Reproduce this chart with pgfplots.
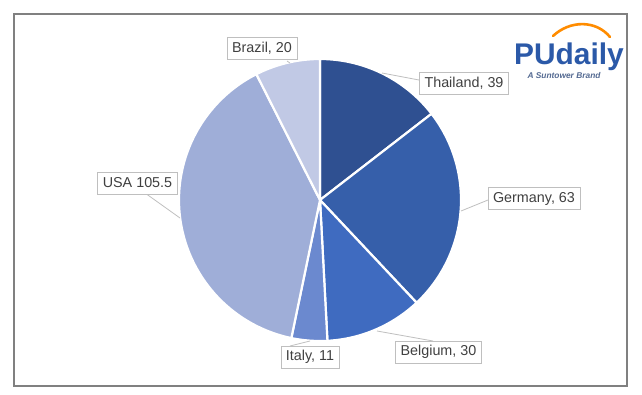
\documentclass[border=0pt]{standalone}
\usepackage{pgfplots}
\pgfplotsset{compat=1.18}
\usepackage{pgfplotstable}
\usepgfplotslibrary{polar}
\usepackage{fontspec}
\setmainfont{Liberation Sans}
\definecolor{cTha}{HTML}{2F5091}
\definecolor{cGer}{HTML}{365FAA}
\definecolor{cBel}{HTML}{3F6BC0}
\definecolor{cIta}{HTML}{6B89CF}
\definecolor{cUSA}{HTML}{9FAED8}
\definecolor{cBra}{HTML}{C1C9E5}
\definecolor{txt}{HTML}{404040}
\definecolor{boxc}{HTML}{BFBFBF}
\definecolor{logob}{HTML}{2B59A8}
\definecolor{logos}{HTML}{546A92}
% values
\def\vTha{39}\def\vGer{63}\def\vBel{30}\def\vIta{11}\def\vUSA{105.5}\def\vBra{20}
\pgfmathsetmacro\tot{\vTha+\vGer+\vBel+\vIta+\vUSA+\vBra}
\pgfmathsetmacro\aA{90}
\pgfmathsetmacro\aB{\aA-\vTha/\tot*360}
\pgfmathsetmacro\aC{\aB-\vGer/\tot*360}
\pgfmathsetmacro\aD{\aC-\vBel/\tot*360}
\pgfmathsetmacro\aE{\aD-\vIta/\tot*360}
\pgfmathsetmacro\aF{\aE-\vUSA/\tot*360}
\pgfmathsetmacro\aG{\aF-\vBra/\tot*360}
\begin{document}
\begin{tikzpicture}[x=1bp,y=1bp]
\fill[white] (0,0) rectangle (642,394);
\draw[color=black!50, line width=1.2bp] (14,8) rectangle (627,380);
\begin{polaraxis}[at={(320bp,194bp)}, anchor=center, scale only axis,
  width=282bp, height=282bp, ymin=0, ymax=1, hide axis, clip=false]
\addplot[fill=cTha, draw=white, line width=2.2bp, domain=\aB:\aA, samples=60] {1} -- (axis cs:0,0) -- cycle;
\addplot[fill=cGer, draw=white, line width=2.2bp, domain=\aC:\aB, samples=60] {1} -- (axis cs:0,0) -- cycle;
\addplot[fill=cBel, draw=white, line width=2.2bp, domain=\aD:\aC, samples=60] {1} -- (axis cs:0,0) -- cycle;
\addplot[fill=cIta, draw=white, line width=2.2bp, domain=\aE:\aD, samples=30] {1} -- (axis cs:0,0) -- cycle;
\addplot[fill=cUSA, draw=white, line width=2.2bp, domain=\aF:\aE, samples=90] {1} -- (axis cs:0,0) -- cycle;
\addplot[fill=cBra, draw=white, line width=2.2bp, domain=\aG:\aF, samples=30] {1} -- (axis cs:0,0) -- cycle;
\end{polaraxis}
% leader lines
\begin{scope}[draw=boxc, line width=0.8bp]
\draw (382,321) -- (419,314);
\draw (461,183) -- (488,194);
\draw (377,63) -- (433,53);
\draw (310,53) -- (290,48);
\draw (180,176) -- (145,201);
\draw (287,333) -- (290,331);
\end{scope}
% labels
\tikzset{lab/.style={draw=boxc, fill=white, line width=0.8bp, text=txt, font=\fontsize{14.4}{16}\selectfont, inner xsep=5bp, inner ysep=0bp, minimum height=22bp}}
\node[lab] at (262,346) {Brazil, 20};
\node[lab] at (464,311) {Thailand, 39};
\node[lab] at (534,195.5) {Germany, 63};
\node[lab] at (438.5,42) {Belgium, 30};
\node[lab] at (310,37) {Italy, 11};
\node[lab] at (137.5,211) {USA 105.5};
% logo
\draw[color=orange!90!yellow, line width=2.6bp, line cap=round] (553,358) .. controls (570,374) and (596,374) .. (610,357);
\node[anchor=base west, inner sep=0, text=logob, font=\fontsize{30}{30}\selectfont\bfseries] at (514,330) {PUdaily};
\node[anchor=center, inner sep=0, text=logos, font=\fontsize{8.4}{9}\selectfont\bfseries\itshape] at (564,318.5) {A Suntower Brand};
\end{tikzpicture}
\end{document}
